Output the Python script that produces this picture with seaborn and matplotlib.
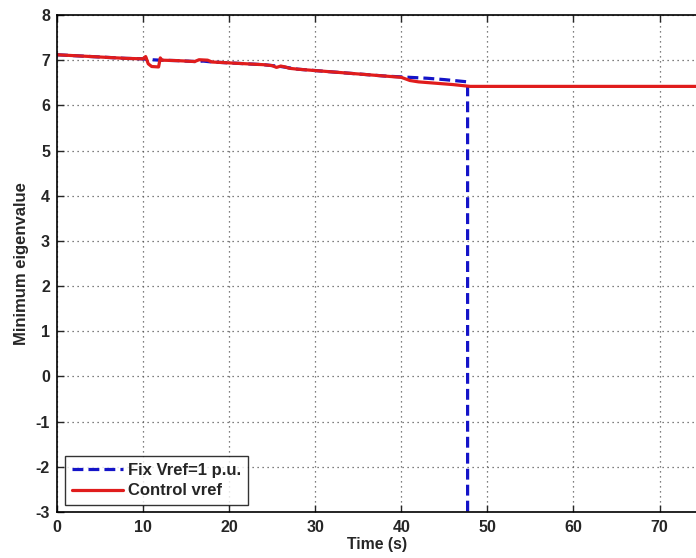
import matplotlib
matplotlib.use("Agg")
import matplotlib.pyplot as plt
import seaborn as sns
import pandas as pd

# Data
t_control = [0, 2, 4, 6, 8, 10, 10.3, 10.6, 11, 11.8, 12.0, 12.2, 14, 16, 16.5, 17.5, 18, 20, 22, 24,
             25, 25.5, 26, 26.5, 27, 28, 30, 32, 34, 36, 38, 40, 41, 42, 44, 46, 48, 50, 53, 60, 70, 80]
v_control = [7.12, 7.10, 7.08, 7.06, 7.04, 7.03, 7.08, 6.92, 6.86, 6.85, 7.05, 7.00, 6.99, 6.97, 7.01,
             7.00, 6.96, 6.94, 6.92, 6.90, 6.88, 6.84, 6.87, 6.85, 6.82, 6.80, 6.77, 6.74, 6.71, 6.68,
             6.65, 6.62, 6.55, 6.52, 6.49, 6.46, 6.42, 6.42, 6.42, 6.42, 6.42, 6.42]

t_fix = [0, 2, 4, 6, 8, 10, 10.3, 11, 12, 14, 16, 17, 18, 20, 22, 24, 26, 28, 30, 32, 34, 36, 38, 40,
         41, 43, 45, 47.7, 47.7]
v_fix = [7.12, 7.10, 7.08, 7.06, 7.04, 7.03, 7.02, 7.01, 7.00, 6.99, 6.97, 6.98, 6.96, 6.94, 6.92,
         6.90, 6.86, 6.80, 6.77, 6.74, 6.71, 6.68, 6.65, 6.63, 6.62, 6.60, 6.57, 6.52, -3.5]

series_fix = "Fix Vref=1 p.u."
series_control = "Control vref"

x_ticks = [0, 10, 20, 30, 40, 50, 60, 70]
y_ticks = [-3, -2, -1, 0, 1, 2, 3, 4, 5, 6, 7, 8]

df = pd.concat([
    pd.DataFrame({"t": t_fix, "v": v_fix, "series": series_fix}),
    pd.DataFrame({"t": t_control, "v": v_control, "series": series_control}),
], ignore_index=True)

sns.set_style("white")
plt.rcParams["font.family"] = ["Liberation Sans", "DejaVu Sans"]
plt.rcParams["font.weight"] = "bold"
plt.rcParams["axes.unicode_minus"] = False

fig = plt.figure(figsize=(6.96, 5.58), dpi=100)
ax = fig.add_axes([57 / 696, 46 / 558, 640 / 696, 497 / 558])

sns.lineplot(data=df, x="t", y="v", hue="series", style="series",
             hue_order=[series_fix, series_control], style_order=[series_fix, series_control],
             palette={series_fix: "#1414c8", series_control: "#e01c1c"},
             dashes={series_fix: (3.4, 1.6), series_control: ""},
             estimator=None, sort=False, linewidth=2.3, ax=ax)

ax.set_xlim(0, 74.35)
ax.set_ylim(-3, 8)
ax.set_xticks(x_ticks)
ax.set_yticks(y_ticks)
ax.set_xlabel("Time (s)", fontsize=11.3, fontweight="bold", labelpad=2)
ax.set_ylabel("Minimum eigenvalue", fontsize=12, fontweight="bold", labelpad=5)
ax.tick_params(axis="both", labelsize=11.5, direction="in", length=5, width=1,
               top=True, right=False, bottom=True, left=True)
ax.tick_params(axis="x", pad=5.5)
ax.tick_params(axis="y", pad=5)
for lab in ax.get_xticklabels() + ax.get_yticklabels():
    lab.set_fontweight("bold")

ax.grid(True, linestyle=(0, (1, 3)), color="#555555", linewidth=0.9)
for s in ["left", "bottom", "top"]:
    ax.spines[s].set_color("black")
    ax.spines[s].set_linewidth(1.2)
ax.spines["right"].set_visible(False)

leg = ax.legend(loc="lower left", bbox_to_anchor=(0.0125, 0.014), fontsize=12, frameon=True,
                fancybox=False, handlelength=3.1, borderpad=0.4, labelspacing=0.35,
                handletextpad=0.3, borderaxespad=0)
leg.get_frame().set_edgecolor("black")
leg.get_frame().set_linewidth(1.0)
for txt in leg.get_texts():
    txt.set_fontweight("bold")

fig.savefig("out.png", dpi=100)
